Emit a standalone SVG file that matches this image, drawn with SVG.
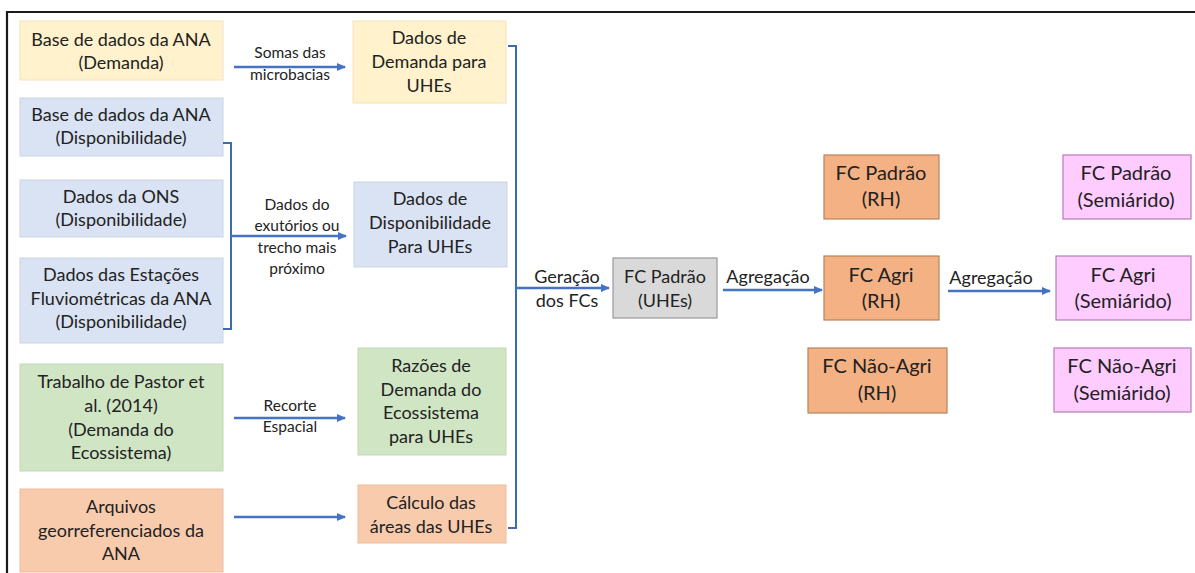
<svg xmlns="http://www.w3.org/2000/svg" width="1195" height="573" viewBox="0 0 1195 573">
<defs>
<marker id="ah" markerWidth="9" markerHeight="8" refX="8" refY="4" orient="auto" markerUnits="userSpaceOnUse">
<path d="M0,0 L9,4 L0,8 Z" fill="#4472C4"/>
</marker>
<style>
.t{font-family:Lato,"Open Sans","Liberation Sans",sans-serif;font-size:18px;fill:#222;text-anchor:middle}
.l{font-family:Lato,"Open Sans","Liberation Sans",sans-serif;font-size:15.5px;fill:#222;text-anchor:middle}
.b{font-family:Lato,"Open Sans","Liberation Sans",sans-serif;font-size:20px;fill:#222;text-anchor:middle}
.y{fill:#FFF2CC;stroke:#F2E4BC;stroke-width:1}
.bl{fill:#DAE3F3;stroke:#C9D4E6;stroke-width:1}
.g{fill:#D0E5C4;stroke:#C2D9B5;stroke-width:1}
.o{fill:#F8CBAD;stroke:#EDBB9A;stroke-width:1}
.or{fill:#F4B183;stroke:#B9825C;stroke-width:1.2}
.p{fill:#FFCCFF;stroke:#B87AB8;stroke-width:1.2}
.gr{fill:#D9D9D9;stroke:#9A9A9A;stroke-width:1.2}
.c{fill:none;stroke:#4472C4;stroke-width:2.5}
.br{fill:none;stroke:#3E6CA8;stroke-width:2}
</style>
</defs>
<rect width="1195" height="573" fill="#ffffff"/>
<path d="M7,573 V12 H1195" fill="none" stroke="#1a1a1a" stroke-width="2.2"/>

<g id="n-ana-demanda"><rect class="y" x="20" y="21" width="203" height="59"/>
<text class="t" x="121" y="46">Base de dados da ANA</text><text class="t" x="121" y="69">(Demanda)</text></g>
<g id="n-ana-disp"><rect class="bl" x="20" y="98" width="203" height="58"/>
<text class="t" x="121" y="121">Base de dados da ANA</text><text class="t" x="121" y="144">(Disponibilidade)</text></g>
<g id="n-ons"><rect class="bl" x="20" y="180" width="203" height="57"/>
<text class="t" x="121" y="203">Dados da ONS</text><text class="t" x="121" y="226">(Disponibilidade)</text></g>
<g id="n-estacoes"><rect class="bl" x="20" y="258" width="203" height="85"/>
<text class="t" x="121" y="281">Dados das Estações</text><text class="t" x="121" y="305">Fluviométricas da ANA</text><text class="t" x="121" y="328">(Disponibilidade)</text></g>
<g id="n-pastor"><rect class="g" x="20" y="364" width="203" height="107"/>
<text class="t" x="121" y="388">Trabalho de Pastor et</text><text class="t" x="121" y="412">al. (2014)</text><text class="t" x="121" y="436">(Demanda do</text><text class="t" x="121" y="459">Ecossistema)</text></g>
<g id="n-arquivos"><rect class="o" x="20" y="489" width="203" height="83"/>
<text class="t" x="121" y="513">Arquivos</text><text class="t" x="121" y="537">georreferenciados da</text><text class="t" x="121" y="560">ANA</text></g>

<g id="n-dem-uhe"><rect class="y" x="353" y="21" width="153" height="82"/>
<text class="t" x="429" y="44">Dados de</text><text class="t" x="429" y="68">Demanda para</text><text class="t" x="429" y="92">UHEs</text></g>
<g id="n-disp-uhe"><rect class="bl" x="354" y="182" width="153" height="85"/>
<text class="t" x="430" y="205">Dados de</text><text class="t" x="430" y="229">Disponibilidade</text><text class="t" x="430" y="253">Para UHEs</text></g>
<g id="n-razoes"><rect class="g" x="358" y="348" width="148" height="107"/>
<text class="t" x="431" y="372">Razões de</text><text class="t" x="431" y="396">Demanda do</text><text class="t" x="431" y="419">Ecossistema</text><text class="t" x="431" y="443">para UHEs</text></g>
<g id="n-calculo"><rect class="o" x="358" y="485" width="148" height="58"/>
<text class="t" x="431" y="509">Cálculo das</text><text class="t" x="431" y="533">áreas das UHEs</text></g>

<g id="n-fc-uhe"><rect class="gr" x="613" y="258" width="104" height="60"/>
<text class="t" x="665" y="283">FC Padrão</text><text class="t" x="665" y="307">(UHEs)</text></g>

<g id="n-fc-padrao-rh"><rect class="or" x="824" y="155" width="115" height="64"/>
<text class="b" x="881" y="180">FC Padrão</text><text class="b" x="881" y="206">(RH)</text></g>
<g id="n-fc-agri-rh"><rect class="or" x="824" y="256" width="115" height="64"/>
<text class="b" x="881" y="282">FC Agri</text><text class="b" x="881" y="308">(RH)</text></g>
<g id="n-fc-nagri-rh"><rect class="or" x="808" y="348" width="139" height="65"/>
<text class="b" x="877" y="373">FC Não-Agri</text><text class="b" x="877" y="400">(RH)</text></g>

<g id="n-fc-padrao-sa"><rect class="p" x="1063" y="155" width="128" height="64"/>
<text class="b" x="1126" y="180">FC Padrão</text><text class="b" x="1126" y="207">(Semiárido)</text></g>
<g id="n-fc-agri-sa"><rect class="p" x="1056" y="256" width="135" height="64"/>
<text class="b" x="1123" y="282">FC Agri</text><text class="b" x="1123" y="308">(Semiárido)</text></g>
<g id="n-fc-nagri-sa"><rect class="p" x="1054" y="348" width="137" height="64"/>
<text class="b" x="1122" y="373">FC Não-Agri</text><text class="b" x="1122" y="400">(Semiárido)</text></g>

<g id="connectors">
<path class="c" d="M234,67 H345" marker-end="url(#ah)"/>
<path class="br" d="M223,143 H231 V329 H223"/>
<path class="c" d="M231,236 H346" marker-end="url(#ah)"/>
<path class="c" d="M234,418 H345" marker-end="url(#ah)"/>
<path class="c" d="M234,517 H345" marker-end="url(#ah)"/>
<path class="br" d="M508,46 H516 V528 H508"/>
<path class="c" d="M516,288 H609" marker-end="url(#ah)"/>
<path class="c" d="M723,290 H822" marker-end="url(#ah)"/>
<path class="c" d="M948,291 H1050" marker-end="url(#ah)"/>
<text class="l" x="290" y="58">Somas das</text><text class="l" x="290" y="80">microbacias</text>
<text class="l" x="297" y="210">Dados do</text><text class="l" x="297" y="231">exutórios ou</text><text class="l" x="297" y="253">trecho mais</text><text class="l" x="297" y="274">próximo</text>
<text class="l" x="290" y="411">Recorte</text><text class="l" x="290" y="432">Espacial</text>
<text class="t" x="567" y="283">Geração</text><text class="t" x="567" y="307">dos FCs</text>
<text class="t" x="768" y="283">Agregação</text>
<text class="t" x="991" y="284">Agregação</text>
</g>
</svg>
